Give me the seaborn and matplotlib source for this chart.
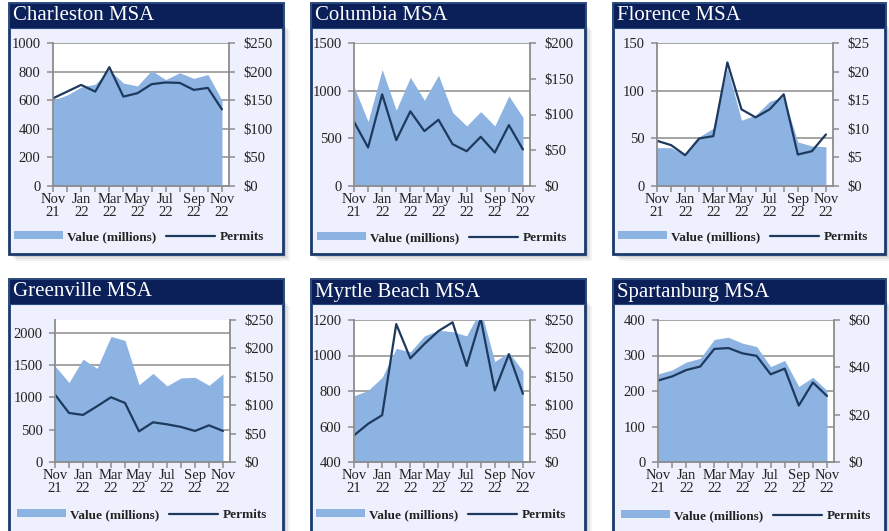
import numpy as np
import pandas as pd
import matplotlib
matplotlib.use("Agg")
import matplotlib.pyplot as plt
from matplotlib.patches import Rectangle, Patch
from matplotlib.lines import Line2D
import seaborn as sns

# ---------------- data ----------------
months = ["Nov 21", "Dec 21", "Jan 22", "Feb 22", "Mar 22", "Apr 22", "May 22",
          "Jun 22", "Jul 22", "Aug 22", "Sep 22", "Oct 22", "Nov 22"]
x_tick_labels = ["Nov\n21", "", "Jan\n22", "", "Mar\n22", "", "May\n22", "",
                 "Jul\n22", "", "Sep\n22", "", "Nov\n22"]

titles = ["Charleston MSA", "Columbia MSA", "Florence MSA",
          "Greenville MSA", "Myrtle Beach MSA", "Spartanburg MSA"]

charleston_permits = [613, 660, 707, 660, 831, 625, 649, 712, 724, 721, 672, 686, 536]
charleston_value = [150, 159, 173, 178, 203, 180, 175, 202, 186, 198, 188, 195, 150]

columbia_permits = [674, 404, 962, 481, 783, 576, 695, 439, 365, 516, 351, 639, 383]
columbia_value = [139, 90, 163, 106, 152, 120, 155, 103, 84, 104, 84, 126, 96]

florence_permits = [47.4, 42.9, 32.3, 49.9, 52.3, 129.6, 80.4, 72, 80.4, 96.2, 33, 36.5, 54.1]
florence_value = [6.7, 6.7, 5.4, 8.6, 10.1, 20.6, 11.5, 12.4, 14.8, 15.6, 7.7, 7.0, 6.85]

greenville_permits = [1044, 760, 729, 863, 1003, 915, 475, 615, 584, 543, 481, 568, 481]
greenville_value = [169, 140, 181, 165, 221, 214, 136, 156, 134, 148, 149, 135, 155]

myrtle_permits = [550, 615, 664, 1177, 984, 1065, 1138, 1187, 941, 1208, 803, 1007, 784]
myrtle_value = [116.5, 126, 149, 200, 194, 222, 232, 229.5, 222, 268, 177, 193, 160]

spartanburg_permits = [229.5, 241, 259, 269, 318.5, 321, 306, 299, 247, 263, 159, 224, 186]
spartanburg_value = [37.2, 38.9, 42.2, 43.8, 51.8, 52.7, 50.2, 48.8, 40.3, 42.9, 31.9, 35.8, 30.2]

permits_all = [charleston_permits, columbia_permits, florence_permits,
               greenville_permits, myrtle_permits, spartanburg_permits]
values_all = [charleston_value, columbia_value, florence_value,
              greenville_value, myrtle_value, spartanburg_value]

left_limits = [(0, 1000), (0, 1500), (0, 150), (0, 2200), (400, 1200), (0, 400)]
left_ticks = [[0, 200, 400, 600, 800, 1000], [0, 500, 1000, 1500], [0, 50, 100, 150],
              [0, 500, 1000, 1500, 2000], [400, 600, 800, 1000, 1200], [0, 100, 200, 300, 400]]
right_limits = [(0, 250), (0, 200), (0, 25), (0, 250), (0, 250), (0, 60)]
right_ticks = [[0, 50, 100, 150, 200, 250], [0, 50, 100, 150, 200], [0, 5, 10, 15, 20, 25],
               [0, 50, 100, 150, 200, 250], [0, 50, 100, 150, 200, 250], [0, 20, 40, 60]]

legend_labels = ["Value (millions)", "Permits"]

# ---------------- layout (pixels) ----------------
W, H = 889, 531
frames = [(9, 283, 3, 254), (311, 585, 3, 254), (613, 885, 3, 254),
          (9, 283, 279, 536), (311, 585, 279, 536), (613, 885, 279, 536)]
title_h = 25
axes_px = [(53, 229, 43, 186), (354, 530, 43, 186), (657, 833, 43, 186),
           (55, 230, 320, 462), (354, 530, 320, 462), (658, 834, 320, 462)]
legend_px = [(14, 237), (317, 238), (618, 237), (17, 515), (316, 515), (621, 516)]

area_c = "#8db3e2"
line_c = "#1d3a5e"
grid_c = "#8c8c8c"
title_c = "#0b1f59"
border_c = "#1a3a6c"
body_c = "#eef1fd"
text_c = "#222222"

sns.set_theme(style="white")
plt.rcParams["font.family"] = ["Liberation Serif", "DejaVu Serif"]

fig = plt.figure(figsize=(W / 100, H / 100), dpi=100)
fig.patch.set_facecolor("white")


def fx(x):
    return x / W


def fy(y):
    return 1 - y / H


for i in range(6):
    x0, x1, y0, y1 = frames[i]
    # shadow
    for k, a in [(7, 0.06), (5, 0.08), (3, 0.12)]:
        fig.patches.append(Rectangle((fx(x0 + k), fy(y1 + k)), fx(x1 - x0), (y1 - y0 - 20) / H,
                                     transform=fig.transFigure, facecolor="#333333",
                                     edgecolor="none", alpha=a, zorder=-5))
    # body
    fig.patches.append(Rectangle((fx(x0), fy(y1)), fx(x1 - x0), (y1 - y0) / H,
                                 transform=fig.transFigure, facecolor=body_c,
                                 edgecolor=border_c, linewidth=2.0, zorder=-4))
    # title bar
    fig.patches.append(Rectangle((fx(x0), fy(y0 + title_h)), fx(x1 - x0), title_h / H,
                                 transform=fig.transFigure, facecolor=title_c,
                                 edgecolor="#2a4a80", linewidth=0.8, zorder=-3))
    fig.text(fx(x0 + 4), fy(y0 + title_h / 2 + 0.5), titles[i], color="white",
             fontsize=15, va="center", ha="left", zorder=3)

    l, r, t, b = axes_px[i]
    ax = fig.add_axes([fx(l), fy(b), fx(r - l), (b - t) / H])
    ax.set_facecolor("white")
    ax.set_ylim(left_limits[i])
    ax.set_yticks(left_ticks[i])
    ax.set_yticklabels([str(v) for v in left_ticks[i]])
    ax.yaxis.grid(True, color=grid_c, linewidth=1.1)
    ax.xaxis.grid(False)
    ax.set_axisbelow(True)
    xs = np.arange(len(months))
    ax.set_xticks(xs)
    ax.set_xticklabels(x_tick_labels, linespacing=1.0)
    ax.tick_params(axis="x", bottom=True, length=4, width=1.1, color=grid_c,
                   labelsize=10.5, labelcolor=text_c, pad=1)
    ax.tick_params(axis="y", left=True, right=False, length=4, width=1.1, color=grid_c,
                   labelsize=10.5, labelcolor=text_c, pad=5)
    for s in ax.spines.values():
        s.set_visible(False)

    # value area on right axis
    axv = ax.twinx()
    axv.set_ylim(right_limits[i])
    axv.set_yticks(right_ticks[i])
    axv.set_yticklabels(["$" + str(v) for v in right_ticks[i]])
    axv.fill_between(xs, values_all[i], color=area_c, linewidth=0, zorder=1)
    axv.tick_params(axis="y", right=True, left=False, length=4, width=1.1, color=grid_c,
                    labelsize=10.5, labelcolor=text_c, pad=6)
    axv.grid(False)
    for s in axv.spines.values():
        s.set_visible(False)

    # permits line on top
    axl = ax.twinx()
    df = pd.DataFrame({"m": xs, "permits": permits_all[i]})
    sns.lineplot(data=df, x="m", y="permits", ax=axl, color=line_c, linewidth=1.6)
    axl.set_ylim(left_limits[i])
    axl.set_yticks([])
    axl.set_ylabel("")
    axl.set_xlabel("")
    axl.grid(False)
    for name, s in axl.spines.items():
        if name == "top":
            s.set_visible(False)
        else:
            s.set_visible(True)
            s.set_color(grid_c)
            s.set_linewidth(1.3)
    ax.set_xlim(0, 12.5)
    ax.set_xlabel("")

    handles = [Patch(facecolor=area_c, edgecolor="none"),
               Line2D([], [], color=line_c, linewidth=1.6)]
    lx, ly = legend_px[i]
    fig.legend(handles=handles, labels=legend_labels, loc="center left",
               bbox_to_anchor=(fx(lx), fy(ly)), ncol=2, frameon=False,
               prop={"weight": "bold", "size": 9.5}, handlelength=3.7, handleheight=0.55,
               handletextpad=0.35, columnspacing=0.7, borderpad=0, borderaxespad=0,
               labelcolor=text_c)

fig.savefig("out.png", dpi=100, facecolor="white")
